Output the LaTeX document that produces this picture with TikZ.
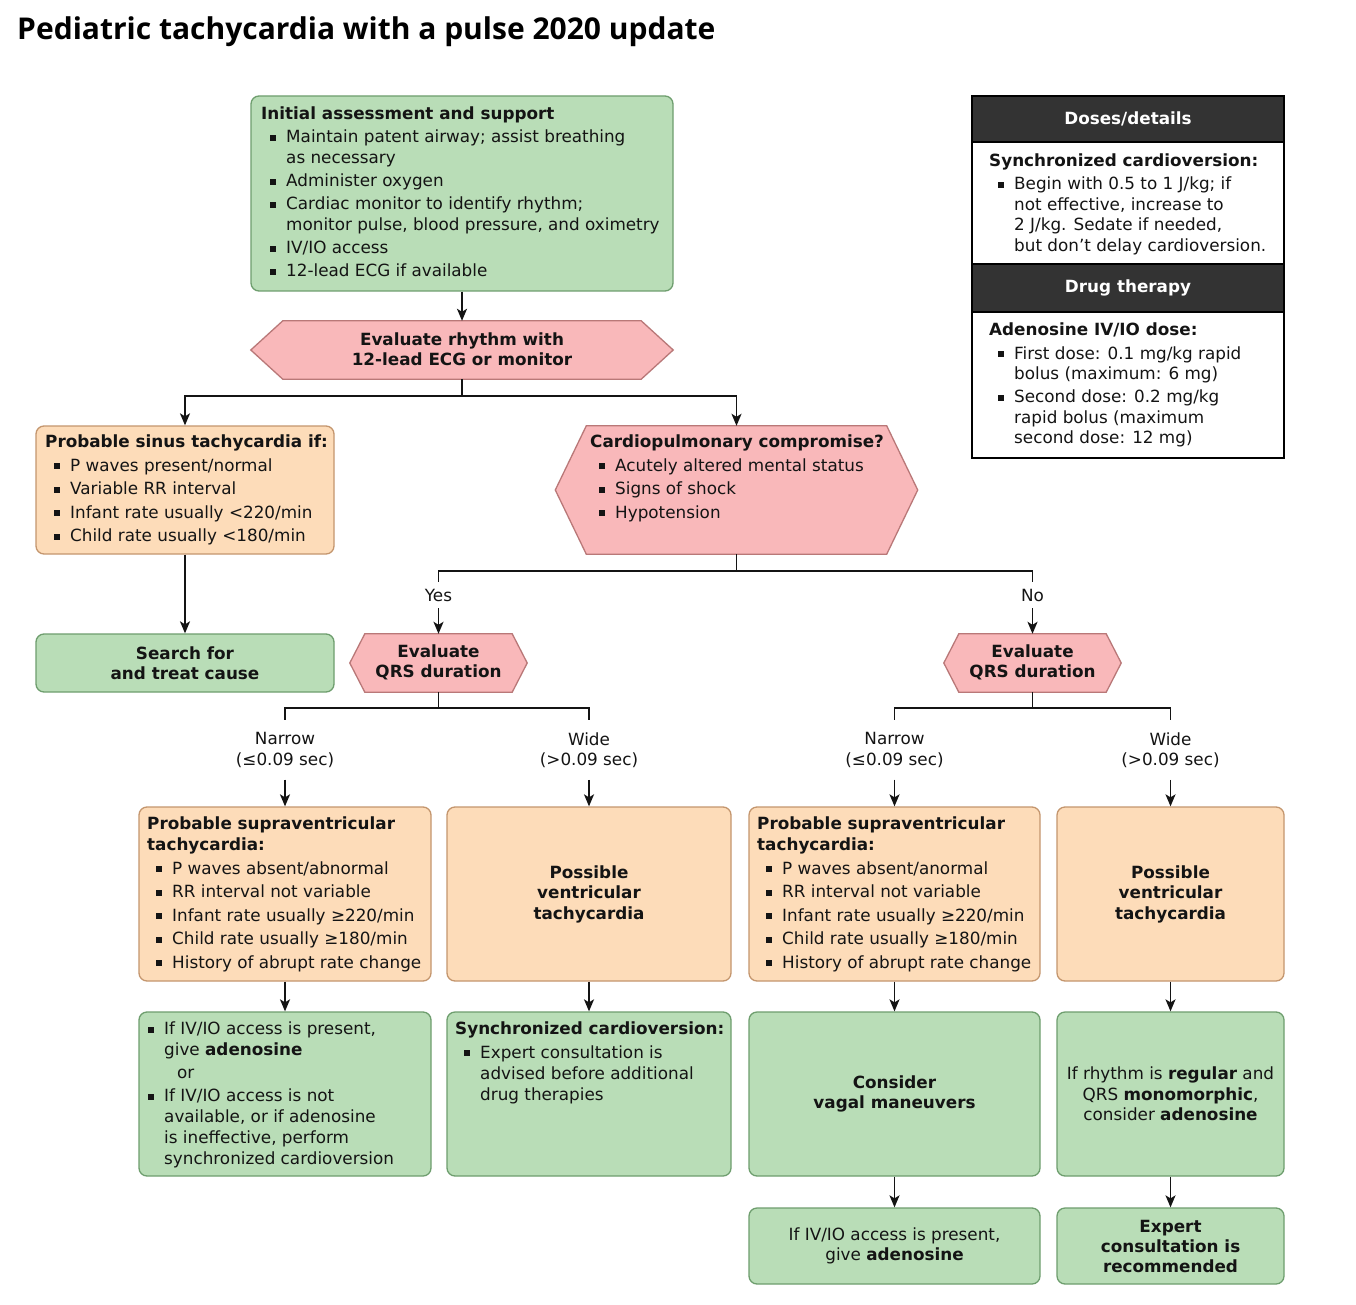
\documentclass[tikz,border=0pt]{standalone}
\usepackage{fontspec}
\setmainfont{DejaVu Sans}
\newfontfamily\titlefont{Open Sans}
\usetikzlibrary{arrows.meta}
\definecolor{gfill}{RGB}{185,221,183}
\definecolor{gline}{RGB}{110,158,110}
\definecolor{ofill}{RGB}{253,220,185}
\definecolor{oline}{RGB}{196,150,110}
\definecolor{pfill}{RGB}{249,184,186}
\definecolor{pline}{RGB}{185,120,120}
\definecolor{dark}{RGB}{51,51,51}
\definecolor{txt}{RGB}{20,20,20}
\newcommand\bu{\hspace*{8.5pt}\rule[2.2pt]{6pt}{6pt}\hspace*{10.5pt}}
\newcommand\cn{\hspace*{25pt}}
\tikzset{
  basefont/.style={font=\fontsize{16.8}{21}\selectfont, text=txt},
  ctr/.style={basefont, font=\fontsize{16.8}{20.5}\selectfont, align=center},
  box/.style={rounded corners=8pt, line width=1.3pt, inner sep=0pt},
  gbox/.style={box, draw=gline, fill=gfill},
  obox/.style={box, draw=oline, fill=ofill},
  hexst/.style={draw=pline, fill=pfill, line width=1.3pt, line join=miter},
  tx/.style={basefont, inner sep=0pt, align=left, anchor=north west},
  arr/.style={-{Stealth[length=12pt,width=10pt,inset=3pt]}, line width=1.6pt, draw=txt},
  ln/.style={line width=1.6pt, draw=txt},
  lab/.style={ctr, inner xsep=2pt, inner ysep=12pt},
  dhead/.style={draw=black, fill=dark, line width=1.5pt, text=white, font=\fontsize{16.8}{20}\selectfont\bfseries, minimum width=312pt, inner sep=0pt},
  dsec/.style={draw=black, fill=white, line width=1.5pt, minimum width=312pt, inner sep=0pt}
}
\newcommand\hexnode[6]{%
  \node[minimum width=#4pt, minimum height=#5pt, inner sep=0pt] (#1) at (#2,#3) {};
  \draw[hexst] ([xshift=#6pt]#1.north west) -- ([xshift=-#6pt]#1.north east) -- (#1.east) -- ([xshift=-#6pt]#1.south east) -- ([xshift=#6pt]#1.south west) -- (#1.west) -- cycle;
}
\begin{document}
\begin{tikzpicture}[x=1pt,y=-1pt]
\fill[white] (0,0) rectangle (1356,1305);
\useasboundingbox (0,0) rectangle (1356,1305);

\node[anchor=base west, inner sep=0pt, font=\titlefont\bfseries\fontsize{30}{33}\selectfont] (title) at (17,40) {Pediatric tachycardia with a pulse 2020 update};

% A
\node[gbox, minimum width=422pt, minimum height=195pt] (A) at (462,193.5) {};
\node[tx] (At) at (261,107) {\textbf{Initial assessment and support}\\[2pt]
\bu Maintain patent airway; assist breathing\\
\cn as necessary\\[2pt]
\bu Administer oxygen\\[2pt]
\bu Cardiac monitor to identify rhythm;\\
\cn monitor pulse, blood pressure, and oximetry\\[2pt]
\bu IV/IO access\\[2pt]
\bu 12-lead ECG if available};

% B
\hexnode{B}{462}{350}{422}{58}{32}
\node[ctr, font=\fontsize{16.8}{20}\selectfont\bfseries] (Bt) at (462,349) {Evaluate rhythm with\\12-lead ECG or monitor};

% C
\node[obox, minimum width=298pt, minimum height=128pt] (C) at (185,490) {};
\node[tx] (Ct) at (45,435) {\textbf{Probable sinus tachycardia if:}\\[2.5pt]
\bu P waves present/normal\\[2.5pt]
\bu Variable RR interval\\[2.5pt]
\bu Infant rate usually <220/min\\[2.5pt]
\bu Child rate usually <180/min};

% D
\hexnode{D}{736.5}{490}{362}{128}{31}
\node[tx] (Dt) at (590,435) {\textbf{Cardiopulmonary compromise?}\\[2.5pt]
\bu Acutely altered mental status\\[2.5pt]
\bu Signs of shock\\[2.5pt]
\bu Hypotension};

% E
\node[gbox, minimum width=298pt, minimum height=58pt, ctr, font=\fontsize{16.8}{20}\selectfont\bfseries] (E) at (185,663) {Search for\\and treat cause};

% F, G
\hexnode{F}{438.5}{663}{177}{58}{15}
\node[ctr, font=\fontsize{16.8}{20}\selectfont\bfseries] (Ft) at (438.5,662) {Evaluate\\QRS duration};
\hexnode{G}{1032.5}{663}{177}{58}{15}
\node[ctr, font=\fontsize{16.8}{20}\selectfont\bfseries] (Gt) at (1032.5,662) {Evaluate\\QRS duration};

% labels
\node[ctr, inner xsep=2pt, inner ysep=7pt] (yes) at (438.5,595) {Yes};
\node[ctr, inner xsep=2pt, inner ysep=7pt] (no) at (1032.5,595) {No};
\node[lab] (n1) at (285,750) {Narrow\\(≤0.09 sec)};
\node[lab] (w1) at (589,750) {Wide\\(>0.09 sec)};
\node[lab] (n2) at (894.5,750) {Narrow\\(≤0.09 sec)};
\node[lab] (w2) at (1170.5,750) {Wide\\(>0.09 sec)};

% row of diagnoses
\node[obox, minimum width=292pt, minimum height=174pt] (H) at (285,894) {};
\node[tx] (Ht) at (147,817) {\textbf{Probable supraventricular}\\\textbf{tachycardia:}\\[2.5pt]
\bu P waves absent/abnormal\\[2.5pt]
\bu RR interval not variable\\[2.5pt]
\bu Infant rate usually ≥220/min\\[2.5pt]
\bu Child rate usually ≥180/min\\[2.5pt]
\bu History of abrupt rate change};
\node[obox, minimum width=284pt, minimum height=174pt, ctr, font=\fontsize{16.8}{20.5}\selectfont\bfseries] (I) at (589,894) {Possible\\ventricular\\tachycardia};
\node[obox, minimum width=291pt, minimum height=174pt] (J) at (894.5,894) {};
\node[tx] (Jt) at (757,817) {\textbf{Probable supraventricular}\\\textbf{tachycardia:}\\[2.5pt]
\bu P waves absent/anormal\\[2.5pt]
\bu RR interval not variable\\[2.5pt]
\bu Infant rate usually ≥220/min\\[2.5pt]
\bu Child rate usually ≥180/min\\[2.5pt]
\bu History of abrupt rate change};
\node[obox, minimum width=227pt, minimum height=174pt, ctr, font=\fontsize{16.8}{20.5}\selectfont\bfseries] (K) at (1170.5,894) {Possible\\ventricular\\tachycardia};

% row of treatments
\node[gbox, minimum width=292pt, minimum height=164pt] (L) at (285,1094) {};
\node[tx] (Lt) at (139,1022) {\bu If IV/IO access is present,\\
\cn give \textbf{adenosine}\\[2pt]
\hspace*{38pt}or\\[2pt]
\bu If IV/IO access is not\\
\cn available, or if adenosine\\
\cn is ineffective, perform\\
\cn synchronized cardioversion};
\node[gbox, minimum width=284pt, minimum height=164pt] (M) at (589,1094) {};
\node[tx] (Mt) at (455,1022) {\textbf{Synchronized cardioversion:}\\[2.5pt]
\bu Expert consultation is\\
\cn advised before additional\\
\cn drug therapies};
\node[gbox, minimum width=291pt, minimum height=164pt, ctr, font=\fontsize{16.8}{20}\selectfont\bfseries] (N) at (894.5,1094) {Consider\\vagal maneuvers};
\node[gbox, minimum width=227pt, minimum height=164pt, ctr] (O) at (1170.5,1094) {If rhythm is \textbf{regular} and\\QRS \textbf{monomorphic},\\consider \textbf{adenosine}};

% last row
\node[gbox, minimum width=291pt, minimum height=76pt, ctr] (P) at (894.5,1246) {If IV/IO access is present,\\give \textbf{adenosine}};
\node[gbox, minimum width=227pt, minimum height=76pt, ctr, font=\fontsize{16.8}{20}\selectfont\bfseries] (Q) at (1170.5,1246) {Expert\\consultation is\\recommended};

% doses box
\node[dhead, minimum height=46pt] (dh1) at (1128,119) {Doses/details};
\node[dsec, minimum height=122pt] (ds1) at (1128,203) {};
\node[dhead, minimum height=48pt] (dh2) at (1128,288) {Drug therapy};
\node[dsec, minimum height=146pt] (ds2) at (1128,385) {};
\node[tx, font=\fontsize{16.8}{20.5}\selectfont] (d1t) at (989,154) {\textbf{Synchronized cardioversion:}\\[2.5pt]
\bu Begin with 0.5 to 1 J/kg; if\\
\cn not effective, increase to\\
\cn 2 J/kg. Sedate if needed,\\
\cn but don’t delay cardioversion.};
\node[tx, font=\fontsize{16.8}{20.5}\selectfont] (d2t) at (989,323) {\textbf{Adenosine IV/IO dose:}\\[3pt]
\bu First dose: 0.1 mg/kg rapid\\
\cn bolus (maximum: 6 mg)\\[2.5pt]
\bu Second dose: 0.2 mg/kg\\
\cn rapid bolus (maximum\\
\cn second dose: 12 mg)};

% connectors
\draw[arr] (A.south) -- (B.north);
\draw[ln] (B.south) -- ++(0,17) coordinate (b1);
\draw[arr] (b1) -| (C.north);
\draw[arr] (b1) -| (D.north);
\draw[arr] (C.south) -- (E.north);
\draw[ln] (D.south) -- ++(0,17) coordinate (d1);
\draw[ln] (d1) -| (yes.north);
\draw[ln] (d1) -| (no.north);
\draw[arr] (yes.south) -- (F.north);
\draw[arr] (no.south) -- (G.north);
\draw[ln] (F.south) -- ++(0,16) coordinate (f1);
\draw[ln] (f1) -| (n1.north);
\draw[ln] (f1) -| (w1.north);
\draw[ln] (G.south) -- ++(0,16) coordinate (g1);
\draw[ln] (g1) -| (n2.north);
\draw[ln] (g1) -| (w2.north);
\draw[arr] (n1.south) -- (H.north);
\draw[arr] (w1.south) -- (I.north);
\draw[arr] (n2.south) -- (J.north);
\draw[arr] (w2.south) -- (K.north);
\draw[arr] (H.south) -- (L.north);
\draw[arr] (I.south) -- (M.north);
\draw[arr] (J.south) -- (N.north);
\draw[arr] (K.south) -- (O.north);
\draw[arr] (N.south) -- (P.north);
\draw[arr] (O.south) -- (Q.north);
\end{tikzpicture}
\end{document}
